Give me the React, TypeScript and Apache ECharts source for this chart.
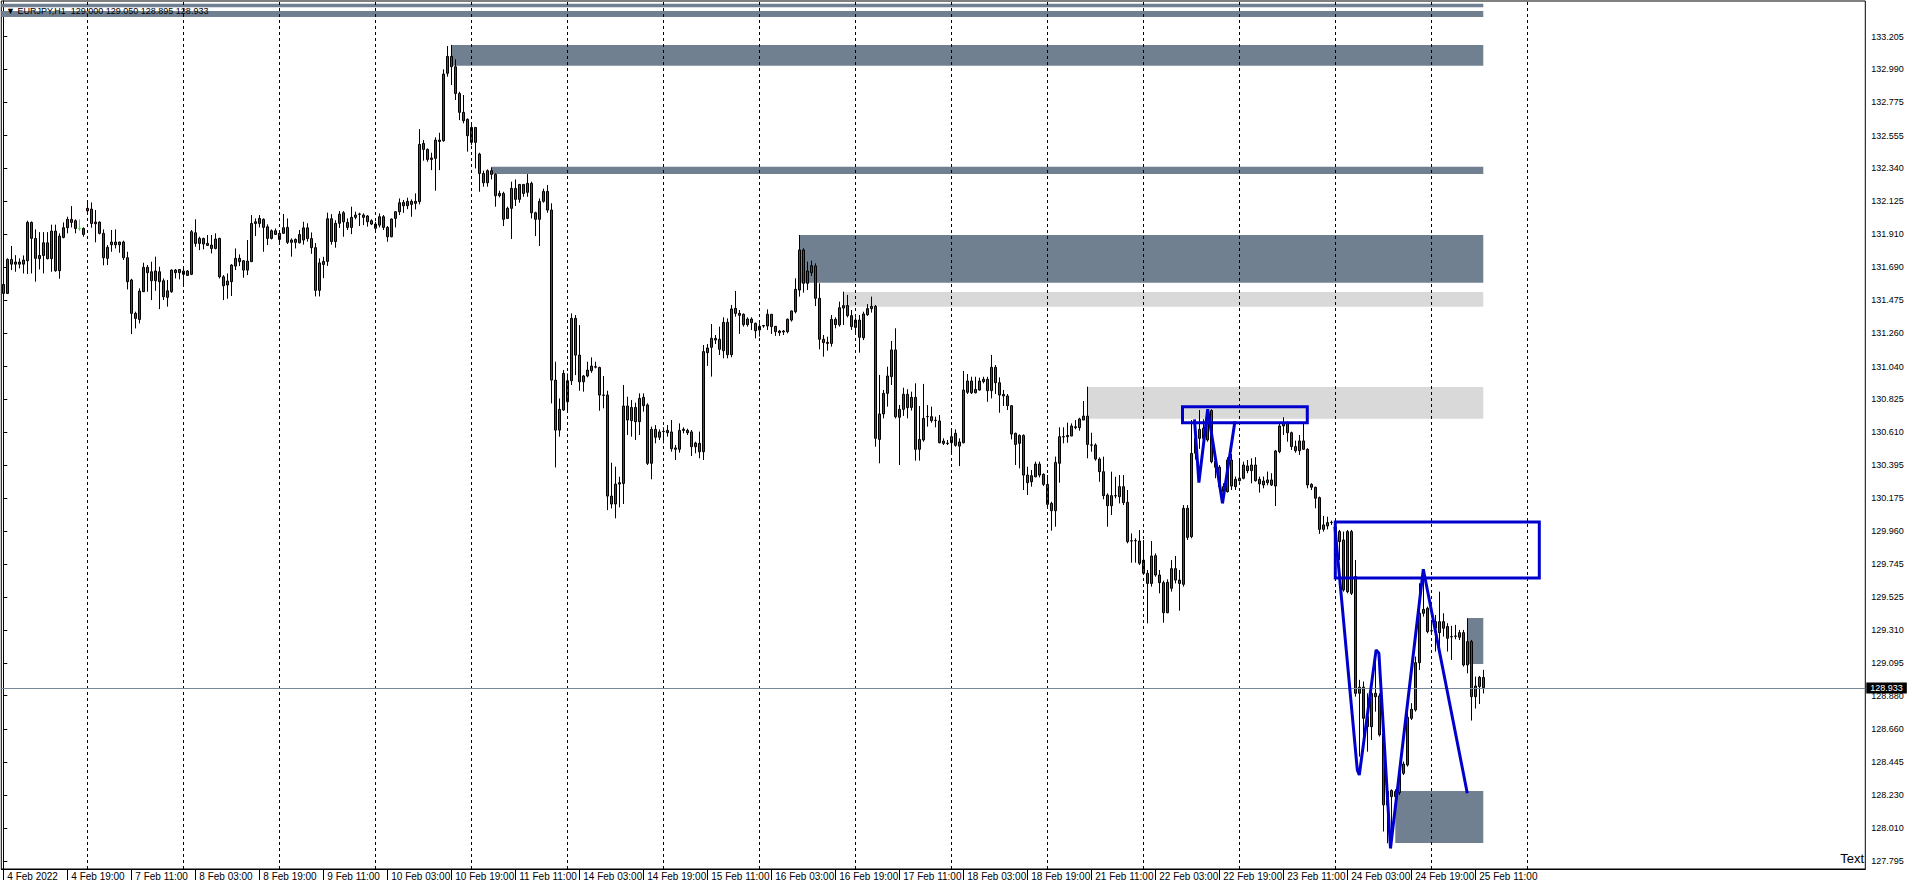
import { useEffect, useRef } from 'react';
import * as echarts from 'echarts';

const FONT = '"Liberation Sans", Arial, sans-serif';

const symbolTitle = 'EURJPY,H1';
const yearLabel = '2022';

// trading day label, first hour of the day shown
const tradingDays: [string, number][] = [
  ['4 Feb', 3], ['7 Feb', 0], ['8 Feb', 0], ['9 Feb', 0], ['10 Feb', 0], ['11 Feb', 0],
  ['14 Feb', 0], ['15 Feb', 0], ['16 Feb', 0], ['17 Feb', 0], ['18 Feb', 0],
  ['21 Feb', 0], ['22 Feb', 0], ['23 Feb', 0], ['24 Feb', 0], ['25 Feb', 0],
];

// hourly bars [open, high, low, close]
const feb04 = [
  [131.579, 131.625, 131.443, 131.520], [131.520, 131.750, 131.516, 131.743], [131.743, 131.831, 131.673, 131.712],
  [131.712, 131.771, 131.662, 131.726], [131.712, 131.750, 131.684, 131.726], [131.712, 131.769, 131.651, 131.739],
  [131.734, 131.997, 131.647, 131.986], [131.986, 131.992, 131.651, 131.881], [131.881, 131.940, 131.597, 131.750],
  [131.748, 131.922, 131.677, 131.769], [131.769, 131.922, 131.651, 131.852], [131.852, 131.922, 131.743, 131.748],
  [131.748, 131.971, 131.662, 131.929], [131.929, 131.971, 131.662, 131.669], [131.669, 131.914, 131.616, 131.896],
  [131.887, 131.986, 131.881, 131.951], [131.951, 132.023, 131.914, 132.006], [132.006, 132.093, 131.953, 131.986],
  [131.997, 132.006, 131.914, 131.946], [131.946, 132.006, 131.931, 131.945], [131.946, 131.953, 131.892, 131.907],
];
const feb07 = [
  [132.078, 132.132, 132.041, 132.062], [132.073, 132.117, 131.951, 131.979], [131.988, 132.067, 131.855, 131.977],
  [131.988, 131.992, 131.907, 131.914], [131.914, 131.940, 131.704, 131.754], [131.750, 131.837, 131.706, 131.822],
  [131.839, 131.936, 131.793, 131.857], [131.857, 131.940, 131.815, 131.839], [131.839, 131.859, 131.787, 131.857],
  [131.857, 131.866, 131.739, 131.754], [131.754, 131.793, 131.546, 131.597], [131.608, 131.616, 131.253, 131.389],
  [131.389, 131.400, 131.290, 131.356], [131.349, 131.553, 131.323, 131.535], [131.531, 131.721, 131.531, 131.691],
  [131.691, 131.706, 131.531, 131.656], [131.662, 131.728, 131.476, 131.603], [131.603, 131.761, 131.537, 131.667],
  [131.662, 131.695, 131.417, 131.597], [131.603, 131.618, 131.476, 131.498], [131.494, 131.608, 131.433, 131.537],
  [131.531, 131.677, 131.524, 131.673], [131.673, 131.680, 131.618, 131.656], [131.656, 131.680, 131.612, 131.677],
];
const feb08 = [
  [131.667, 131.688, 131.575, 131.645], [131.667, 131.673, 131.634, 131.638], [131.645, 131.936, 131.640, 131.925],
  [131.918, 132.006, 131.826, 131.848], [131.848, 131.892, 131.804, 131.881], [131.881, 131.885, 131.809, 131.844],
  [131.848, 131.903, 131.831, 131.835], [131.837, 131.903, 131.782, 131.815], [131.815, 131.914, 131.809, 131.877],
  [131.881, 131.885, 131.618, 131.629], [131.629, 131.640, 131.476, 131.570], [131.575, 131.651, 131.485, 131.601],
  [131.597, 131.712, 131.503, 131.706], [131.699, 131.815, 131.673, 131.750], [131.750, 131.776, 131.699, 131.728],
  [131.734, 131.739, 131.623, 131.673], [131.673, 131.870, 131.640, 131.732], [131.728, 132.034, 131.728, 131.979],
  [131.979, 132.012, 131.896, 131.990], [131.979, 132.034, 131.953, 132.012], [132.006, 132.012, 131.793, 131.953],
  [131.957, 131.973, 131.837, 131.881], [131.881, 131.940, 131.874, 131.931], [131.907, 131.946, 131.903, 131.931],
];
const feb09 = [
  [131.914, 131.936, 131.844, 131.874], [131.914, 132.041, 131.914, 131.951], [131.953, 132.012, 131.844, 131.855],
  [131.855, 131.881, 131.761, 131.870], [131.874, 131.881, 131.815, 131.855], [131.852, 131.936, 131.848, 131.907],
  [131.870, 131.990, 131.840, 131.950], [131.950, 131.980, 131.860, 131.880], [131.880, 131.920, 131.780, 131.820],
  [131.820, 131.850, 131.500, 131.540], [131.540, 131.750, 131.500, 131.720], [131.710, 131.760, 131.620, 131.730],
  [131.730, 132.050, 131.700, 132.010], [132.010, 132.040, 131.840, 131.860], [131.860, 132.000, 131.820, 131.980],
  [131.980, 132.060, 131.950, 132.040], [132.049, 132.060, 131.892, 131.990], [131.986, 132.012, 131.936, 131.953],
  [131.953, 132.089, 131.909, 132.019], [132.019, 132.056, 132.006, 132.034], [132.039, 132.049, 131.962, 132.041],
  [132.034, 132.045, 131.968, 132.019], [132.028, 132.034, 131.958, 131.990], [131.997, 132.006, 131.968, 131.975],
];
const feb10 = [
  [131.947, 131.990, 131.925, 131.975], [131.968, 132.045, 131.953, 132.023], [132.023, 132.034, 131.936, 131.953],
  [131.953, 131.962, 131.859, 131.892], [131.892, 132.012, 131.888, 132.008], [132.012, 132.060, 131.953, 132.056],
  [132.056, 132.143, 132.034, 132.115], [132.117, 132.133, 132.049, 132.095], [132.095, 132.148, 132.073, 132.124],
  [132.124, 132.137, 132.023, 132.104], [132.111, 132.176, 132.071, 132.124], [132.122, 132.598, 132.104, 132.498],
  [132.504, 132.526, 132.391, 132.465], [132.465, 132.471, 132.384, 132.399], [132.408, 132.443, 132.329, 132.399],
  [132.406, 132.544, 132.194, 132.526], [132.517, 132.574, 132.329, 132.526], [132.522, 132.990, 132.515, 132.959],
  [132.964, 133.143, 132.942, 133.075], [133.075, 133.150, 132.887, 133.007], [133.007, 133.056, 132.789, 132.832],
  [132.832, 132.843, 132.657, 132.708], [132.708, 132.822, 132.636, 132.653], [132.662, 132.668, 132.450, 132.555],
];
const feb11 = [
  [132.511, 132.625, 132.493, 132.609], [132.609, 132.609, 132.340, 132.511], [132.434, 132.443, 132.187, 132.307],
  [132.307, 132.325, 132.220, 132.246], [132.246, 132.334, 132.220, 132.325], [132.325, 132.347, 132.268, 132.301],
  [132.301, 132.307, 132.089, 132.161], [132.161, 132.194, 132.150, 132.176], [132.176, 132.187, 131.962, 132.006],
  [132.012, 132.089, 132.008, 132.078], [132.078, 132.253, 131.877, 132.209], [132.209, 132.268, 132.093, 132.137],
  [132.137, 132.238, 132.115, 132.235], [132.235, 132.238, 132.154, 132.176], [132.183, 132.303, 132.154, 132.242],
  [132.242, 132.253, 132.012, 132.049], [132.049, 132.056, 131.896, 132.006], [132.006, 132.143, 131.831, 132.124],
  [132.124, 132.207, 132.115, 132.189], [132.189, 132.231, 132.049, 132.067], [132.067, 132.111, 130.798, 130.951],
  [130.951, 131.072, 130.378, 130.623], [130.623, 130.831, 130.580, 130.759], [130.755, 131.017, 130.750, 130.995],
];
const feb14 = [
  [130.809, 130.995, 130.737, 130.947], [130.947, 131.389, 130.919, 131.356], [131.356, 131.378, 130.984, 131.115],
  [131.115, 131.312, 130.881, 130.940], [130.940, 130.984, 130.875, 130.978], [130.978, 131.072, 130.969, 131.017],
  [131.013, 131.100, 130.999, 131.043], [131.039, 131.072, 131.028, 131.036], [131.034, 131.039, 130.750, 130.853],
  [130.853, 130.978, 130.766, 130.851], [130.853, 130.881, 130.098, 130.190], [130.190, 130.409, 130.109, 130.138],
  [130.138, 130.383, 130.044, 130.269], [130.269, 130.317, 130.116, 130.278], [130.273, 130.919, 130.138, 130.781],
  [130.781, 130.842, 130.591, 130.689], [130.685, 130.820, 130.580, 130.772], [130.772, 130.803, 130.558, 130.678],
  [130.678, 130.864, 130.591, 130.831], [130.838, 130.864, 130.744, 130.783], [130.788, 130.799, 130.394, 130.405],
  [130.405, 130.646, 130.300, 130.628], [130.628, 130.656, 130.536, 130.576], [130.576, 130.628, 130.558, 130.611],
];
const feb15 = [
  [130.615, 130.641, 130.536, 130.613], [130.621, 130.656, 130.580, 130.606], [130.611, 130.689, 130.481, 130.501],
  [130.506, 130.525, 130.427, 130.497], [130.497, 130.667, 130.475, 130.621], [130.621, 130.641, 130.602, 130.628],
  [130.621, 130.632, 130.591, 130.606], [130.611, 130.623, 130.453, 130.514], [130.538, 130.547, 130.471, 130.514],
  [130.536, 130.613, 130.438, 130.481], [130.481, 131.181, 130.427, 131.138], [131.131, 131.188, 131.044, 131.162],
  [131.166, 131.319, 130.974, 131.225], [131.214, 131.247, 131.188, 131.225], [131.219, 131.302, 131.116, 131.153],
  [131.144, 131.363, 131.094, 131.330], [131.330, 131.356, 131.094, 131.118], [131.118, 131.444, 131.101, 131.418],
  [131.422, 131.536, 131.367, 131.389], [131.389, 131.411, 131.254, 131.376], [131.383, 131.389, 131.302, 131.315],
  [131.315, 131.363, 131.302, 131.352], [131.352, 131.363, 131.280, 131.328], [131.324, 131.328, 131.225, 131.275],
];
const feb16 = [
  [131.280, 131.324, 131.236, 131.304], [131.309, 131.313, 131.295, 131.306], [131.306, 131.415, 131.280, 131.383],
  [131.383, 131.385, 131.254, 131.302], [131.304, 131.306, 131.241, 131.269], [131.273, 131.280, 131.241, 131.262],
  [131.267, 131.280, 131.247, 131.273], [131.269, 131.356, 131.258, 131.350], [131.345, 131.407, 131.335, 131.405],
  [131.400, 131.619, 131.389, 131.547], [131.542, 131.903, 131.499, 131.805], [131.805, 131.816, 131.525, 131.586],
  [131.586, 131.728, 131.542, 131.667], [131.656, 131.735, 131.634, 131.702], [131.700, 131.717, 131.437, 131.488],
  [131.488, 131.586, 131.153, 131.219], [131.219, 131.247, 131.105, 131.197], [131.199, 131.236, 131.144, 131.192],
  [131.192, 131.378, 131.171, 131.350], [131.350, 131.363, 131.291, 131.315], [131.313, 131.466, 131.302, 131.426],
  [131.424, 131.531, 131.313, 131.440], [131.440, 131.510, 131.363, 131.374], [131.374, 131.411, 131.280, 131.302],
];
const feb17 = [
  [131.297, 131.363, 131.258, 131.345], [131.345, 131.378, 131.131, 131.232], [131.229, 131.400, 131.214, 131.385],
  [131.380, 131.450, 131.372, 131.420], [131.420, 131.499, 131.394, 131.435], [131.435, 131.444, 130.514, 130.569],
  [130.562, 130.985, 130.405, 130.729], [130.729, 130.886, 130.700, 130.864], [130.864, 131.039, 130.777, 130.978],
  [130.974, 131.208, 130.919, 131.149], [131.149, 131.291, 130.700, 130.711], [130.707, 130.788, 130.394, 130.759],
  [130.759, 130.901, 130.716, 130.858], [130.858, 130.891, 130.700, 130.770], [130.772, 130.875, 130.751, 130.838],
  [130.838, 130.930, 130.423, 130.497], [130.497, 130.781, 130.423, 130.562], [130.558, 130.926, 130.547, 130.700],
  [130.711, 130.787, 130.646, 130.713], [130.711, 130.777, 130.672, 130.685], [130.688, 130.711, 130.641, 130.686],
  [130.683, 130.722, 130.536, 130.540], [130.551, 130.569, 130.525, 130.536], [130.537, 130.558, 130.525, 130.535],
];
const feb18 = [
  [130.540, 130.634, 130.470, 130.580], [130.602, 130.628, 130.514, 130.523], [130.518, 130.569, 130.387, 130.545],
  [130.540, 131.011, 130.536, 130.886], [130.871, 130.991, 130.860, 130.945], [130.945, 130.973, 130.860, 130.868],
  [130.868, 130.973, 130.864, 130.890], [130.886, 130.967, 130.882, 130.945], [130.941, 130.973, 130.930, 130.956],
  [130.956, 130.973, 130.809, 130.882], [130.882, 131.116, 130.831, 131.035], [131.035, 131.050, 130.860, 130.934],
  [130.934, 130.969, 130.737, 130.853], [130.857, 130.886, 130.781, 130.847], [130.847, 130.860, 130.755, 130.783],
  [130.783, 130.787, 130.562, 130.597], [130.602, 130.606, 130.394, 130.529], [130.536, 130.595, 130.372, 130.588],
  [130.588, 130.595, 130.230, 130.328], [130.328, 130.383, 130.197, 130.278], [130.284, 130.361, 130.252, 130.324],
  [130.317, 130.416, 130.313, 130.400], [130.400, 130.416, 130.313, 130.328], [130.333, 130.339, 130.256, 130.267],
];
const feb21 = [
  [130.267, 130.328, 130.120, 130.136], [130.094, 130.153, 129.963, 130.142], [130.094, 130.449, 129.989, 130.411],
  [130.405, 130.641, 130.278, 130.580], [130.578, 130.641, 130.536, 130.580], [130.580, 130.672, 130.540, 130.588],
  [130.584, 130.667, 130.584, 130.650], [130.639, 130.689, 130.628, 130.645], [130.639, 130.704, 130.619, 130.696],
  [130.689, 130.814, 130.689, 130.715], [130.715, 130.908, 130.438, 130.529], [130.526, 130.606, 130.481, 130.524],
  [130.525, 130.536, 130.422, 130.433], [130.433, 130.444, 130.284, 130.350], [130.350, 130.449, 130.169, 130.193],
  [130.197, 130.208, 129.989, 130.127], [130.127, 130.350, 130.066, 130.193], [130.193, 130.317, 130.175, 130.191],
  [130.186, 130.328, 130.142, 130.252], [130.252, 130.328, 130.131, 130.147], [130.149, 130.230, 129.880, 129.891],
  [129.897, 129.945, 129.753, 129.895], [129.898, 129.913, 129.753, 129.897], [129.895, 129.967, 129.738, 129.749],
];
const feb22 = [
  [129.770, 129.902, 129.683, 129.683], [129.683, 129.705, 129.355, 129.617], [129.617, 129.895, 129.596, 129.797],
  [129.799, 129.814, 129.661, 129.672], [129.672, 129.705, 129.552, 129.622], [129.622, 129.635, 129.359, 129.425],
  [129.425, 129.644, 129.421, 129.624], [129.585, 129.770, 129.563, 129.714], [129.714, 129.797, 129.617, 129.639],
  [129.639, 129.705, 129.438, 129.617], [129.611, 130.131, 129.596, 130.110], [130.110, 130.131, 129.902, 129.919],
  [129.924, 130.689, 129.913, 130.470], [130.471, 130.690, 130.430, 130.569], [130.569, 130.755, 130.500, 130.628],
  [130.569, 130.694, 130.558, 130.635], [130.558, 130.760, 130.547, 130.751], [130.751, 130.760, 130.405, 130.416],
  [130.416, 130.427, 130.307, 130.379], [130.379, 130.394, 130.230, 130.252], [130.252, 130.274, 130.143, 130.219],
  [130.219, 130.445, 130.213, 130.427], [130.427, 130.466, 130.230, 130.256], [130.252, 130.318, 130.230, 130.300],
];
const feb23 = [
  [130.291, 130.427, 130.285, 130.307], [130.307, 130.416, 130.300, 130.394], [130.388, 130.427, 130.340, 130.357],
  [130.357, 130.438, 130.274, 130.394], [130.394, 130.445, 130.285, 130.291], [130.300, 130.318, 130.213, 130.270],
  [130.263, 130.318, 130.241, 130.289], [130.296, 130.351, 130.261, 130.278], [130.296, 130.340, 130.256, 130.263],
  [130.256, 130.493, 130.125, 130.486], [130.482, 130.668, 130.471, 130.650], [130.650, 130.707, 130.591, 130.672],
  [130.672, 130.679, 130.547, 130.606], [130.606, 130.613, 130.493, 130.515], [130.515, 130.554, 130.475, 130.488],
  [130.488, 130.591, 130.460, 130.552], [130.552, 130.668, 130.493, 130.497], [130.497, 130.504, 130.241, 130.263],
  [130.267, 130.274, 130.230, 130.248], [130.248, 130.252, 130.110, 130.176], [130.180, 130.187, 129.942, 129.972],
  [129.972, 130.060, 129.957, 130.001], [129.994, 130.055, 129.972, 130.016], [130.016, 130.029, 130.001, 130.018],
];
const feb24 = [
  [129.985, 130.012, 129.913, 129.957], [129.957, 129.968, 129.771, 129.891], [129.902, 129.957, 129.563, 129.574],
  [129.563, 129.968, 129.552, 129.957], [129.957, 129.968, 129.541, 129.552], [129.662, 129.771, 128.874, 128.896],
  [128.896, 128.984, 128.481, 128.936], [128.936, 128.973, 128.524, 128.732], [128.743, 128.896, 128.513, 128.677],
  [128.677, 128.929, 128.590, 128.896], [128.896, 129.181, 128.776, 128.874], [128.879, 128.896, 128.612, 128.623],
  [128.629, 128.634, 127.989, 128.164], [128.164, 128.273, 127.912, 128.251], [128.258, 128.266, 127.879, 128.218],
  [128.218, 128.266, 128.142, 128.251], [128.244, 128.393, 128.229, 128.371], [128.371, 128.448, 128.360, 128.432],
  [128.426, 128.765, 128.415, 128.739], [128.732, 128.831, 128.721, 128.791], [128.787, 129.137, 128.776, 129.097],
  [129.097, 129.618, 129.049, 129.421], [129.421, 129.673, 129.399, 129.447], [129.454, 129.465, 129.290, 129.301],
];
const feb25 = [
  [129.307, 129.377, 129.285, 129.305], [129.366, 129.410, 129.170, 129.323], [129.294, 129.563, 129.181, 129.366],
  [129.366, 129.421, 129.268, 129.323], [129.334, 129.356, 129.170, 129.257], [129.268, 129.338, 129.115, 129.266],
  [129.272, 129.345, 129.251, 129.270], [129.264, 129.312, 129.246, 129.294], [129.294, 129.312, 129.071, 129.082],
  [129.082, 129.388, 129.027, 129.235], [129.235, 129.246, 128.717, 128.874], [128.874, 129.006, 128.796, 128.944],
  [128.940, 129.010, 128.826, 129.001], [129.000, 129.050, 128.895, 128.933],
];

const dayBars = [feb04, feb07, feb08, feb09, feb10, feb11, feb14, feb15, feb16, feb17, feb18, feb21, feb22, feb23, feb24, feb25];
const limeDojiBars = [19];

// price axis labels shown on the right scale
const yTickLabels = [
  133.205, 132.99, 132.775, 132.555, 132.34, 132.125, 131.91, 131.69, 131.475, 131.26, 131.04, 130.825, 130.61,
  130.395, 130.175, 129.96, 129.745, 129.525, 129.31, 129.095, 128.88, 128.66, 128.445, 128.23, 128.01, 127.795,
];
const priceWindow = [127.7431, 133.4386];
const totalSlots = 466;

// zones: [startBar, endBar, topPrice, bottomPrice]
const darkZones = [
  [-10, 370, 133.421, 133.397],
  [-10, 370, 133.373, 133.334],
  [112, 370, 133.15, 133.014],
  [122, 370, 132.351, 132.303],
  [199, 370, 131.903, 131.59],
  [366, 370, 129.39, 129.088],
  [348, 370, 128.255, 127.914],
];
const lightZones = [
  [210, 370, 131.529, 131.433],
  [271, 370, 130.906, 130.698],
];
const blueBoxes = [
  [294.8, 326, 130.777, 130.672],
  [333, 384, 130.02, 129.653],
];
// zigzag trend lines: [bar, price]
const zigzagA = [[297.8, 130.694], [298.9, 130.278], [301.1, 130.76], [304.8, 130.143], [307.9, 130.679]];
const zigzagB = [
  [332.9, 129.99], [338.5, 128.393], [339.0, 128.36], [343.2, 129.181], [343.9, 129.159],
  [346.8, 127.879], [355.0, 129.71], [366.0, 128.24],
];

const candles = dayBars.flat();
const times: string[] = [];
tradingDays.forEach(([d, h0], k) => {
  dayBars[k].forEach((_, j) => times.push(`${d} ${String(h0 + j).padStart(2, '0')}:00`));
});
const dayStarts: number[] = [];
{
  let acc = 0;
  dayBars.forEach((b) => { dayStarts.push(acc); acc += b.length; });
}
const separators = [...dayStarts.slice(1), dayStarts[dayStarts.length - 1] + 24];

export default function App() {
  const ref = useRef<HTMLDivElement>(null);
  useEffect(() => {
    document.body.style.margin = '0';
    const chart = echarts.init(ref.current!, undefined, { renderer: 'svg' });
    const categories = times.concat(
      Array.from({ length: totalSlots - times.length }, (_, k) => `future-${k}`)
    );
    const last = candles[candles.length - 1];
    const lastClose = last[3];
    const candleData = candles.map(([o, h, l, c], i) =>
      limeDojiBars.includes(i)
        ? { value: [o, c, l, h], itemStyle: { borderColor: '#00ff00', borderColor0: '#00ff00', color: '#00ff00', color0: '#00ff00' } }
        : [o, c, l, h]
    );
    const labelInterval = (index: number) => index % 16 === 0 && index < candles.length;
    const rectRender = (style: any) => (params: any, api: any) => {
      const a = api.coord([api.value(0), api.value(2)]);
      const b = api.coord([api.value(1), api.value(3)]);
      const cs = params.coordSys;
      const shape = echarts.graphic.clipRectByRect(
        { x: a[0], y: a[1], width: b[0] - a[0], height: b[1] - a[1] },
        { x: cs.x, y: cs.y, width: cs.width, height: cs.height }
      );
      if (!shape) return null;
      return { type: 'rect', shape, style };
    };
    const header = `${symbolTitle}  ${last.map((v) => v.toFixed(3)).join(' ')}`;

    chart.setOption({
      animation: false,
      backgroundColor: '#ffffff',
      textStyle: { fontFamily: FONT },
      grid: { left: 1.3, right: 46.7, top: 1, bottom: 16, show: true, borderColor: '#000', borderWidth: 1, backgroundColor: 'transparent' },
      xAxis: [
        {
          type: 'category',
          data: categories,
          boundaryGap: true,
          axisLine: { show: true, lineStyle: { color: '#000', width: 1 } },
          axisTick: { show: true, alignWithLabel: true, interval: labelInterval, length: 11, lineStyle: { color: '#000' } },
          axisLabel: {
            interval: labelInterval,
            formatter: (v: string, i: number) => (i === 0 ? `${tradingDays[0][0]} ${yearLabel}` : v),
            align: 'left',
            margin: 2,
            padding: [0, 0, 0, 4],
            color: '#000',
            fontSize: 10,
            fontFamily: FONT,
          },
          splitLine: { show: false },
        },
        { type: 'value', min: -0.5, max: totalSlots - 0.5, show: false, gridIndex: 0 },
      ],
      yAxis: [
        {
          type: 'value',
          position: 'right',
          min: priceWindow[0],
          max: priceWindow[1],
          axisLine: { show: true, lineStyle: { color: '#000' } },
          axisTick: { show: true, customValues: yTickLabels, length: 4, lineStyle: { color: '#000' } },
          axisLabel: {
            customValues: yTickLabels,
            formatter: (v: number) => v.toFixed(3),
            margin: 6,
            color: '#000',
            fontSize: 9,
            fontFamily: FONT,
          },
          splitLine: { show: false },
        },
      ],
      series: [
        {
          type: 'custom',
          name: 'zonesDark',
          xAxisIndex: 1,
          yAxisIndex: 0,
          z: 1,
          silent: true,
          renderItem: rectRender({ fill: '#708090' }),
          encode: { x: [0, 1], y: [2, 3] },
          data: darkZones,
        },
        {
          type: 'custom',
          name: 'zonesLight',
          xAxisIndex: 1,
          yAxisIndex: 0,
          z: 1,
          silent: true,
          renderItem: rectRender({ fill: '#d9d9d9' }),
          encode: { x: [0, 1], y: [2, 3] },
          data: lightZones,
        },
        {
          type: 'line',
          name: 'separators',
          xAxisIndex: 1,
          yAxisIndex: 0,
          z: 2,
          data: [],
          silent: true,
          markLine: {
            silent: true,
            symbol: ['none', 'none'],
            label: { show: false },
            lineStyle: { color: '#000', width: 1, type: [3, 3] },
            data: separators.map((s) => ({ xAxis: s })),
          },
        },
        {
          type: 'candlestick',
          xAxisIndex: 0,
          yAxisIndex: 0,
          z: 3,
          barWidth: 2,
          data: candleData,
          itemStyle: { color: '#008000', color0: '#ff0000', borderColor: '#000', borderColor0: '#000', borderWidth: 1 },
          markLine: {
            silent: true,
            symbol: ['none', 'none'],
            lineStyle: { color: '#778899', width: 1, type: 'solid' },
            label: {
              show: true,
              position: 'end',
              formatter: lastClose.toFixed(3),
              color: '#fff',
              backgroundColor: '#000',
              padding: [1, 4, 1, 4],
              fontSize: 9,
              fontFamily: FONT,
              distance: 1,
            },
            data: [{ yAxis: lastClose }],
          },
        },
        {
          type: 'custom',
          name: 'boxes',
          xAxisIndex: 1,
          yAxisIndex: 0,
          z: 4,
          silent: true,
          renderItem: rectRender({ fill: 'none', stroke: '#0000cd', lineWidth: 3 }),
          encode: { x: [0, 1], y: [2, 3] },
          data: blueBoxes,
        },
        ...[zigzagA, zigzagB].map((pts) => ({
          type: 'line',
          xAxisIndex: 1,
          yAxisIndex: 0,
          z: 5,
          silent: true,
          symbol: 'none',
          data: pts,
          lineStyle: { color: '#0000cd', width: 3 },
        })),
      ],
      graphic: [
        {
          type: 'text',
          x: 6,
          y: 11,
          z: 100,
          style: { text: '\u25BC ' + header, font: `9px ${FONT}`, fill: '#000', verticalAlign: 'middle' },
        },
        {
          type: 'text',
          x: 1864,
          y: 858,
          z: 100,
          style: { text: 'Text', font: `13px ${FONT}`, fill: '#000', align: 'right', verticalAlign: 'middle' },
        },
      ],
    });
    return () => chart.dispose();
  }, []);
  return <div ref={ref} style={{ position: 'fixed', left: 0, top: 0, width: 1912, height: 885, background: '#fff' }} />;
}
